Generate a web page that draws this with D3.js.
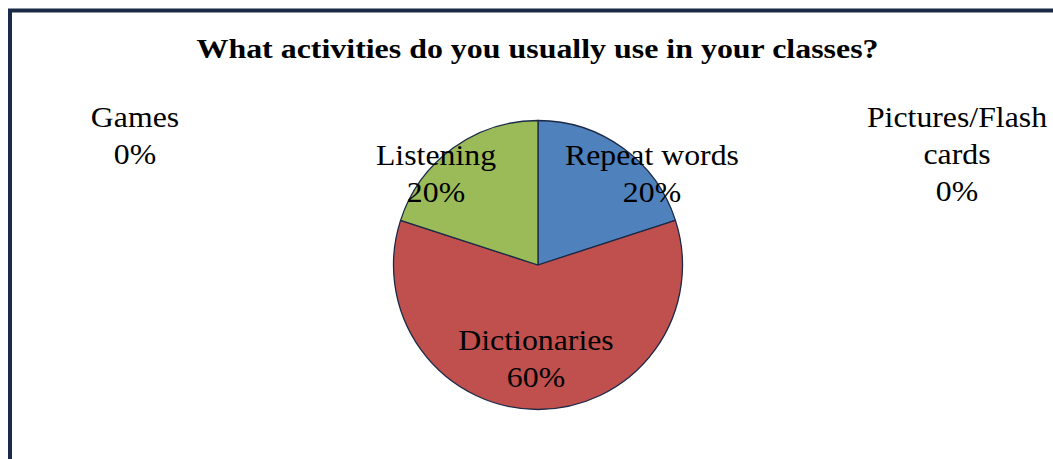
<!DOCTYPE html>
<html><head><meta charset="utf-8">
<script src="https://cdn.jsdelivr.net/npm/d3@7"></script>
<style>html,body{margin:0;padding:0;background:#fff;}svg{display:block;}</style>
</head><body>
<svg id="c" width="1053" height="459"></svg>
<script>
const title = "What activities do you usually use in your classes?";
const categories = ["Repeat words", "Dictionaries", "Listening", "Games", "Pictures/Flash cards"];
const values = [20, 60, 20, 0, 0];
const colors = ["#4F81BD", "#C0504D", "#9BBB59", "#8064A2", "#4BACC6"];
// label line breaks and placement (layout only)
const labelLines = [["Repeat words"], ["Dictionaries"], ["Listening"], ["Games"], ["Pictures/Flash", "cards"]];
const labelPos = [[652, 165], [536, 350], [436, 165], [135, 127], [957, 127]];

const svg = d3.select("#c");
const font = "'Liberation Serif','Times New Roman',serif";

// border frame
svg.append("rect").attr("x", 10).attr("y", 10.5).attr("width", 1100).attr("height", 500)
  .attr("fill", "#fff").attr("stroke", "#1B2A47").attr("stroke-width", 4);

svg.append("g").attr("transform", "translate(537.5,58) scale(1.14,1)")
  .append("text").attr("text-anchor", "middle")
  .attr("font-family", font).attr("font-weight", "bold").attr("font-size", 28).text(title);

const cx = 538, cy = 265, R = 144.5;
const pie = d3.pie().sort(null).value(d => d)(values);
const arc = d3.arc().innerRadius(0).outerRadius(R);
const g = svg.append("g").attr("transform", `translate(${cx},${cy})`);
g.selectAll("path").data(pie.filter(d => d.value > 0)).join("path")
  .attr("d", arc).attr("fill", d => colors[d.index])
  .attr("stroke", "#1B2A47").attr("stroke-width", 1.3).attr("stroke-linejoin", "round");

const total = d3.sum(values);
const fmt = d3.format(".0%");
categories.forEach((c, i) => {
  const lines = labelLines[i].concat([fmt(values[i] / total)]);
  const t = svg.append("g")
    .attr("transform", `translate(${labelPos[i][0]},${labelPos[i][1]}) scale(1.06,1)`)
    .append("text").attr("text-anchor", "middle")
    .attr("font-family", font).attr("font-size", 30).attr("fill", "#000");
  lines.forEach((l, k) => {
    t.append("tspan").attr("x", 0).attr("y", k * 36.8).text(l);
  });
});
</script>
</body></html>
